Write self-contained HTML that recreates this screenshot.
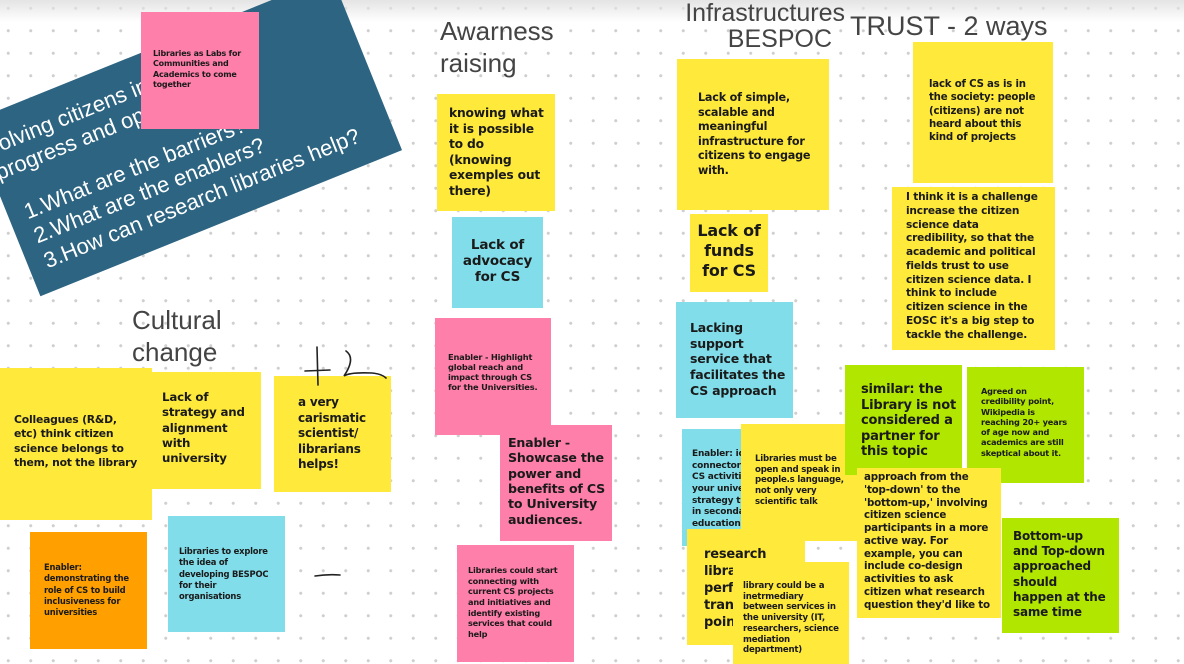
<!DOCTYPE html>
<html><head><meta charset="utf-8"><style>
html,body{margin:0;padding:0}
body{width:1184px;height:664px;position:relative;overflow:hidden;background:#fff;
background-image:radial-gradient(circle,#cfcfcf 1.3px,transparent 1.8px);background-size:22.5px 22.5px;background-position:-3px -3px;
font-family:"Liberation Sans",sans-serif}
.top{position:absolute;left:0;top:0;width:1184px;height:22px;background:linear-gradient(#e4e4e4,rgba(255,255,255,0))}
.n{position:absolute;box-sizing:border-box;font-weight:bold;color:#1a1a1a;line-height:1.2;font-family:"DejaVu Sans",sans-serif;letter-spacing:-0.2px;white-space:nowrap;overflow:hidden}
.y{background:#ffe93b}.c{background:#80dde9}.p{background:#ff7fab}.g{background:#b1e600}.o{background:#ffa000}
.h{position:absolute;color:#444;font-size:26px;line-height:1.22}
.ban{position:absolute;left:-9px;top:42px;width:390px;height:188px;background:#2c6482;transform:rotate(-22deg);color:#fff;font-size:22px;line-height:1.2;box-sizing:border-box;padding:19px 0 0 17px}
</style></head><body>
<div class="top"></div>
<div class="ban"><div style="margin-left:-22px;white-space:nowrap">nvolving citizens in scientific</div><div style="margin-left:-12px;white-space:nowrap">progress and open science</div><div style="margin-top:20px;padding-left:0px;white-space:nowrap">1.What are the barriers?<br>2.What are the enablers?<br>3.How can research libraries help?</div></div>
<div class="n p" style="left:141px;top:12px;width:118px;height:117px;font-size:8px;padding:37px 4px 0 12px;line-height:1.3">Libraries as Labs for<br>Communities and<br>Academics to come<br>together</div>

<div class="h" style="left:440px;top:16px">Awarness<br>raising</div>
<div class="h" style="left:669px;top:0px;font-size:25px;line-height:1.05;text-align:right;width:176px">Infrastructures<br><span style="margin-right:13px">BESPOC</span></div>
<div class="h" style="left:850px;top:10px;font-size:27px">TRUST - 2 ways</div>
<div class="h" style="left:132px;top:305px">Cultural<br>change</div>

<div class="n y" style="left:437px;top:94px;width:118px;height:117px;font-size:12.3px;padding:12px 2px 0 12px;line-height:1.27">knowing what<br>it is possible<br>to do<br>(knowing<br>exemples out<br>there)</div>
<div class="n c" style="left:452px;top:217px;width:91px;height:91px;font-size:13.5px;padding:20px 0 0;text-align:center">Lack of<br>advocacy<br>for CS</div>
<div class="n p" style="left:435px;top:318px;width:116px;height:117px;font-size:8.3px;padding:35px 2px 0 13px">Enabler - Highlight<br>global reach and<br>impact through CS<br>for the Universities.</div>
<div class="n p" style="left:500px;top:425px;width:112px;height:116px;font-size:12.6px;padding:10px 0 0 8px;line-height:1.22">Enabler -<br>Showcase the<br>power and<br>benefits of CS<br>to University<br>audiences.</div>
<div class="n p" style="left:457px;top:545px;width:117px;height:117px;font-size:8.2px;padding:20px 0 0 11px;line-height:1.3">Libraries could start<br>connecting with<br>current CS projects<br>and initiatives and<br>identify existing<br>services that could<br>help</div>

<div class="n y" style="left:677px;top:59px;width:152px;height:151px;font-size:11.2px;padding:32px 2px 0 21px;line-height:1.3">Lack of simple,<br>scalable and<br>meaningful<br>infrastructure for<br>citizens to engage<br>with.</div>
<div class="n y" style="left:690px;top:214px;width:78px;height:78px;font-size:16px;padding:7px 0 0;text-align:center;line-height:1.25">Lack of<br>funds<br>for CS</div>
<div class="n c" style="left:676px;top:302px;width:117px;height:116px;font-size:12.5px;padding:18px 0 0 14px;line-height:1.25">Lacking<br>support<br>service that<br>facilitates the<br>CS approach</div>

<div class="n c" style="left:682px;top:429px;width:70px;height:117px;font-size:9px;padding:20px 0 0 10px;line-height:1.3">Enabler: id<br>connector<br>CS activiti<br>your unive<br>strategy t<br>in seconda<br>education</div>
<div class="n y" style="left:741px;top:424px;width:116px;height:117px;font-size:8.6px;padding:30px 0 0 14px;line-height:1.25">Libraries must be<br>open and speak in<br>people.s language,<br>not only very<br>scientific talk</div>
<div class="n y" style="left:687px;top:529px;width:118px;height:116px;font-size:13px;padding:18px 0 0 17px;line-height:1.3">research<br>libra<br>perf<br>tran:<br>poin</div>
<div class="n y" style="left:733px;top:562px;width:116px;height:102px;font-size:8.6px;padding:19px 0 0 10px;line-height:1.25">library could be a<br>inetrmediary<br>between services in<br>the university (IT,<br>researchers, science<br>mediation<br>department)</div>

<div class="n y" style="left:913px;top:42px;width:140px;height:141px;font-size:10.2px;padding:36px 0 0 16px;line-height:1.3">lack of CS as is in<br>the society: people<br>(citizens) are not<br>heard about this<br>kind of projects</div>
<div class="n y" style="left:892px;top:187px;width:163px;height:163px;font-size:10.6px;padding:4px 0 0 14px;line-height:1.3">I think it is a challenge<br>increase the citizen<br>science data<br>credibility, so that the<br>academic and political<br>fields trust to use<br>citizen science data. I<br>think to include<br>citizen science in the<br>EOSC it's a big step to<br>tackle the challenge.</div>
<div class="n g" style="left:845px;top:365px;width:117px;height:110px;font-size:13px;padding:17px 0 0 16px;line-height:1.2">similar: the<br>Library is not<br>considered a<br>partner for<br>this topic</div>
<div class="n g" style="left:967px;top:367px;width:117px;height:116px;font-size:8.2px;padding:19px 0 0 14px;line-height:1.25">Agreed on<br>credibility point,<br>Wikipedia is<br>reaching 20+ years<br>of age now and<br>academics are still<br>skeptical about it.</div>
<div class="n y" style="left:857px;top:468px;width:144px;height:150px;font-size:10.3px;padding:3px 0 0 7px;line-height:1.24">approach from the<br>'top-down' to the<br>'bottom-up,' involving<br>citizen science<br>participants in a more<br>active way. For<br>example, you can<br>include co-design<br>activities to ask<br>citizen what research<br>question they'd like to</div>
<div class="n g" style="left:1002px;top:518px;width:117px;height:115px;font-size:12px;padding:11px 0 0 11px;line-height:1.27">Bottom-up<br>and Top-down<br>approached<br>should<br>happen at the<br>same time</div>

<div class="n y" style="left:0px;top:368px;width:152px;height:152px;font-size:10.8px;padding:45px 0 0 14px;line-height:1.33">Colleagues (R&amp;D,<br>etc) think citizen<br>science belongs to<br>them, not the library</div>
<div class="n y" style="left:152px;top:372px;width:109px;height:117px;font-size:11.8px;padding:18px 0 0 10px;line-height:1.3">Lack of<br>strategy and<br>alignment<br>with<br>university</div>
<div class="n y" style="left:274px;top:376px;width:117px;height:116px;font-size:12px;padding:19px 0 0 24px;line-height:1.3">a very<br>carismatic<br>scientist/<br>librarians<br>helps!</div>
<div class="n o" style="left:30px;top:532px;width:117px;height:117px;font-size:8.4px;padding:30px 0 0 14px;line-height:1.35">Enabler:<br>demonstrating the<br>role of CS to build<br>inclusiveness for<br>universities</div>
<div class="n c" style="left:168px;top:516px;width:117px;height:116px;font-size:8.4px;padding:30px 0 0 11px;line-height:1.35">Libraries to explore<br>the idea of<br>developing BESPOC<br>for their<br>organisations</div>

<svg style="position:absolute;left:0;top:0" width="1184" height="664">
<g fill="none" stroke="#222" stroke-width="1.6" stroke-linecap="round">
<path d="M317 347 L318 385"/><path d="M305 371 L330 370"/>
<path d="M346 351 Q356 358 344 376 Q350 372 372 373 Q382 374 386 378"/>
<path d="M315 576 Q328 574 340 575"/>
</g></svg>
</body></html>
